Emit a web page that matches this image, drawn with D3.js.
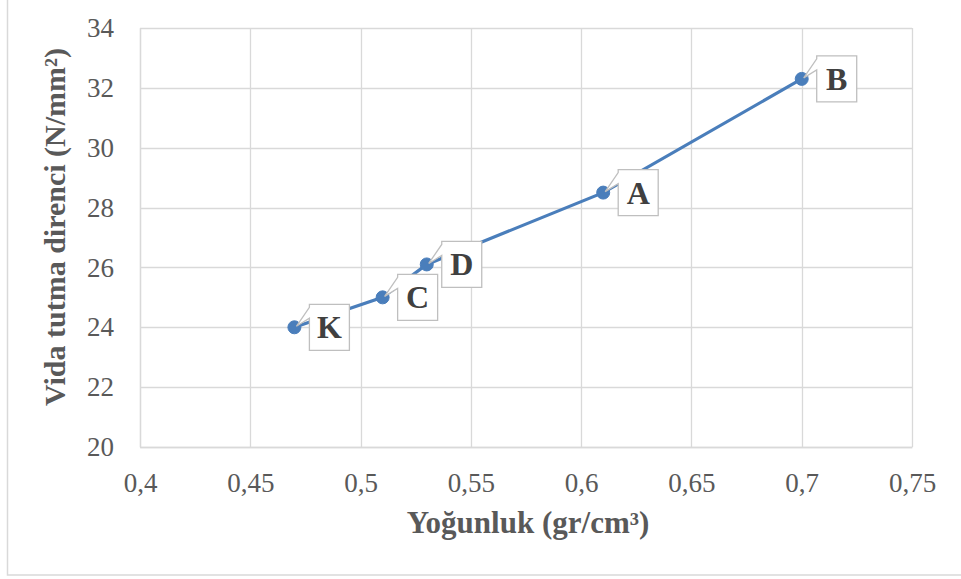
<!DOCTYPE html>
<html>
<head>
<meta charset="utf-8">
<script src="https://cdn.jsdelivr.net/npm/d3@7"></script>
<style>
  body { margin: 0; background: #fff; }
  svg { display: block; }
</style>
</head>
<body>
<script>
// data
const labels = ['K', 'C', 'D', 'A', 'B'];
const density = [0.47, 0.51, 0.53, 0.61, 0.70];
const screwResist = [24.0, 25.0, 26.1, 28.5, 32.3];
const xTicks = [0.4, 0.45, 0.5, 0.55, 0.6, 0.65, 0.7, 0.75];
const yTicks = [20, 22, 24, 26, 28, 30, 32, 34];

const W = 961, H = 579;
const svg = d3.select('body').append('svg')
  .attr('width', W)
  .attr('height', H);

/** outer chart border */
svg.append('rect')
  .attr('x', 7.5).attr('y', -1)
  .attr('width', 960).attr('height', 576)
  .attr('fill', '#fff')
  .attr('stroke', '#d9d9d9')
  .attr('stroke-width', 1.5);

const x = d3.scaleLinear().domain([0.4, 0.75]).range([140, 912]);
const y = d3.scaleLinear().domain([20, 34]).range([447, 28]);

const fmt = d => String(d).replace('.', ',');
const font = '"Liberation Serif", "Times New Roman", serif';

/** gridlines */
const grid = svg.append('g').attr('class', 'grid');
grid.selectAll('line.v')
  .data(xTicks)
  .enter().append('line')
  .attr('x1', d => Math.round(x(d)) + 0.5)
  .attr('x2', d => Math.round(x(d)) + 0.5)
  .attr('y1', y(34)).attr('y2', y(20))
  .attr('stroke', '#d9d9d9')
  .attr('stroke-width', 1.3);
grid.selectAll('line.h')
  .data(yTicks)
  .enter().append('line')
  .attr('y1', d => Math.round(y(d)) + 0.5)
  .attr('y2', d => Math.round(y(d)) + 0.5)
  .attr('x1', x(0.4)).attr('x2', x(0.75))
  .attr('stroke', '#d9d9d9')
  .attr('stroke-width', 1.3);

/** axes, drawn with d3 axes then restyled */
const xAxis = svg.append('g')
  .attr('transform', `translate(0,${y(20)})`)
  .call(d3.axisBottom(x).tickValues(xTicks).tickFormat(fmt).tickSize(0).tickPadding(45));
xAxis.selectAll('text').attr('dy', null);
const yAxis = svg.append('g')
  .attr('transform', `translate(${x(0.4)},0)`)
  .call(d3.axisLeft(y).tickValues(yTicks).tickFormat(fmt).tickSize(0).tickPadding(26));
[xAxis, yAxis].forEach(a => {
  a.select('.domain').attr('stroke', '#d9d9d9').attr('stroke-width', 1.3);
  a.selectAll('text')
    .attr('fill', '#595959')
    .attr('font-family', font)
    .attr('font-size', 27);
});

/** line + markers */
const pts = labels.map((l, i) => ({label: l, x: density[i], y: screwResist[i]}));
svg.append('path')
  .datum(pts)
  .attr('fill', 'none')
  .attr('stroke', '#4a7ebb')
  .attr('stroke-width', 3.2)
  .attr('d', d3.line().x(d => x(d.x)).y(d => y(d.y)));

svg.append('g')
  .selectAll('circle')
  .data(pts)
  .enter().append('circle')
  .attr('cx', d => x(d.x))
  .attr('cy', d => y(d.y))
  .attr('r', 6.5)
  .attr('fill', '#4a7ebb')
  .attr('stroke', '#4a7ebb');

/** callout labels */
const bw = 40, bh = 46;
const callout = svg.append('g')
  .selectAll('g')
  .data(pts)
  .enter().append('g')
  .attr('transform', d => `translate(${x(d.x)},${y(d.y)})`);

callout.append('path')
  .attr('d', () => {
    const l = 15, t = -23;
    return `M${l},${t} H${l + bw} V${t + bh} H${l} V${t + 14} L2,-1 L${l},${t + 3} Z`;
  })
  .attr('fill', '#fff')
  .attr('stroke', '#bfbfbf')
  .attr('stroke-width', 1.3);

callout.append('text')
  .text(d => d.label)
  .attr('x', 15 + bw / 2)
  .attr('y', 11)
  .attr('text-anchor', 'middle')
  .attr('font-family', font)
  .attr('font-weight', 'bold')
  .attr('font-size', 32)
  .attr('fill', '#404040');

/** axis titles */
svg.append('text')
  .text('Yoğunluk (gr/cm³)')
  .attr('x', 528).attr('y', 533)
  .attr('text-anchor', 'middle')
  .attr('font-family', font)
  .attr('font-weight', 'bold')
  .attr('font-size', 31)
  .attr('fill', '#595959');

svg.append('text')
  .text('Vida tutma direnci (N/mm²)')
  .attr('transform', 'translate(65,227) rotate(-90)')
  .attr('text-anchor', 'middle')
  .attr('font-family', font)
  .attr('font-weight', 'bold')
  .attr('font-size', 30)
  .attr('fill', '#595959');
</script>
</body>
</html>
